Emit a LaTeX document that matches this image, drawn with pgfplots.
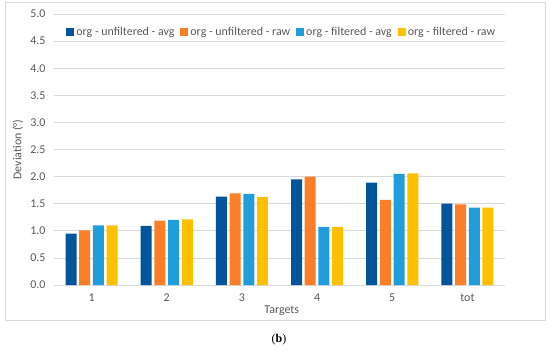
\documentclass[border=0pt]{standalone}
\usepackage{pgfplots}
\pgfplotsset{compat=1.18}
\usepackage{fontspec}
\setmainfont{Carlito}
\newfontfamily\seriffont{Liberation Serif}
\definecolor{cA}{HTML}{00559B}
\definecolor{cB}{HTML}{FB7F26}
\definecolor{cC}{HTML}{1F9EDB}
\definecolor{cD}{HTML}{FFC000}
\definecolor{txt}{HTML}{595959}
\definecolor{grid}{HTML}{D9D9D9}
\begin{document}
\begin{tikzpicture}[x=1bp,y=1bp]
\path (0,0) rectangle (550,-350);
\draw[color=grid, line width=0.8bp] (5,-2) rectangle (545,-320);
\begin{axis}[
  at={(54bp,-285bp)}, anchor=south west,
  scale only axis, width=451bp, height=271bp,
  ybar=2.7bp, bar width=11bp,
  xmin=-0.5, xmax=5.5, ymin=0, ymax=5,
  xtick={0,1,2,3,4,5}, xticklabels={1,2,3,4,5,tot},
  ytick={0,0.5,...,5},
  /pgf/number format/fixed, /pgf/number format/fixed zerofill, /pgf/number format/precision=1,
  /pgf/number format/assume math mode=true,
  ymajorgrids, grid style={color=grid, line width=0.8bp},
  axis x line*=bottom, axis y line*=left,
  x axis line style={color=grid, line width=0.8bp},
  y axis line style={draw=none},
  major tick length=0pt,
  tick label style={font=\fontsize{12}{14}\selectfont, color=txt},
  yticklabel style={xshift=-5bp},
  xticklabel style={yshift=-5bp},
  xlabel={Targets}, ylabel={Deviation (°)},
  label style={font=\fontsize{12}{14}\selectfont, color=txt},
  xlabel style={at={(axis description cs:0.505,0)}, anchor=center, yshift=-26bp},
  ylabel style={at={(axis description cs:-0.08,0.5)}, anchor=center, rotate=0},
  legend columns=4,
  legend style={at={(0.505,0.934)}, anchor=center, draw=none, fill=none,
    font=\fontsize{12}{14}\selectfont, text=txt,
    /tikz/every even column/.append style={column sep=4bp}},
  legend image code/.code={\fill[#1] (0bp,-4bp) rectangle (8bp,4bp);},
  legend cell align=left,
]
\addplot[fill=cA, draw=none] coordinates {(0,0.95) (1,1.09) (2,1.63) (3,1.95) (4,1.89) (5,1.50)};
\addplot[fill=cB, draw=none] coordinates {(0,1.01) (1,1.19) (2,1.69) (3,2.00) (4,1.57) (5,1.49)};
\addplot[fill=cC, draw=none] coordinates {(0,1.10) (1,1.20) (2,1.68) (3,1.07) (4,2.05) (5,1.43)};
\addplot[fill=cD, draw=none] coordinates {(0,1.10) (1,1.21) (2,1.62) (3,1.07) (4,2.06) (5,1.43)};
\legend{org - unfiltered - avg, org - unfiltered - raw, org - filtered - avg, org - filtered - raw}
\end{axis}
\node[font=\seriffont\fontsize{12}{14}\selectfont] at (279,-340) {(\textbf{b})};
\end{tikzpicture}
\end{document}
